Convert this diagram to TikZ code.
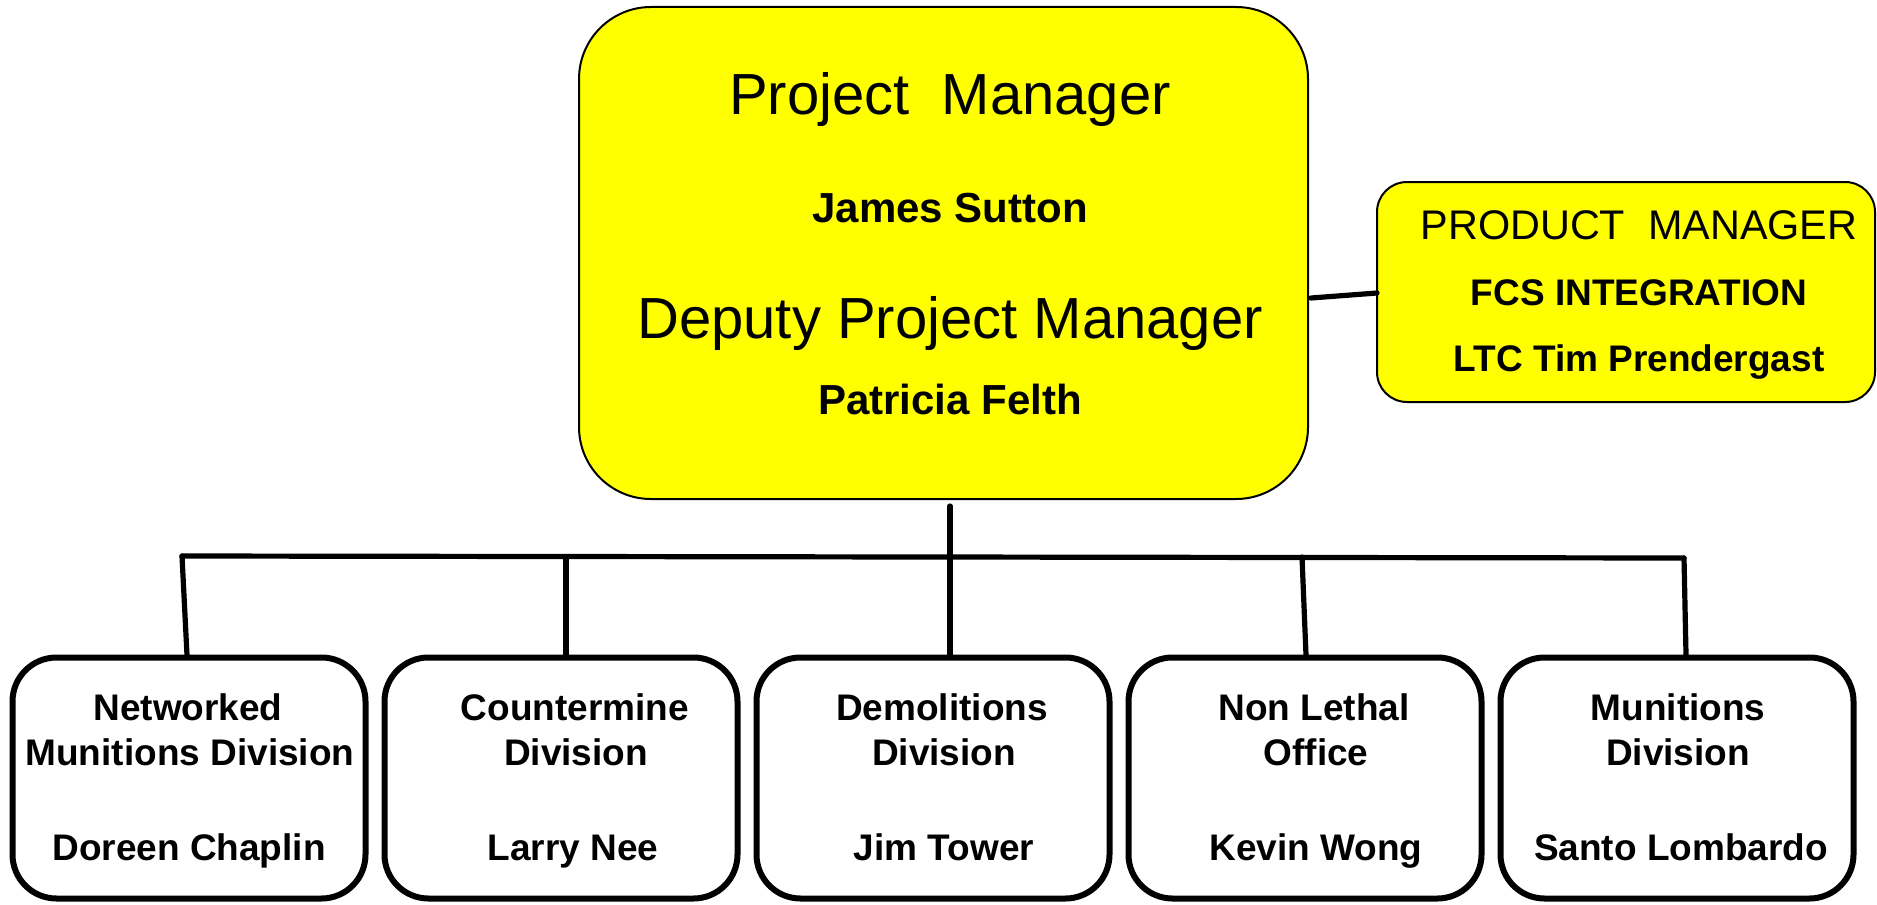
\documentclass[tikz,border=0pt]{standalone}
\usepackage{fontspec}
\setmainfont{Liberation Sans}
\definecolor{boxyellow}{HTML}{FFFF00}
\begin{document}
\begin{tikzpicture}[x=0.5pt,y=-0.5pt,
  mainbox/.style={draw=black, fill=boxyellow, line width=1pt, rounded corners=36pt, inner sep=0},
  pmbox/.style={draw=black, fill=boxyellow, line width=1pt, rounded corners=15pt, inner sep=0},
  divbox/.style={draw=black, fill=white, line width=3pt, rounded corners=22pt, inner sep=0, minimum width=176.5pt, minimum height=120.5pt},
  conn/.style={draw=black, line width=2.6pt, line cap=round, line join=round},
  bigreg/.style={anchor=base, inner sep=0, font=\fontsize{29}{31}\selectfont},
  bigbold/.style={anchor=base, inner sep=0, font=\fontsize{21}{24}\selectfont\bfseries},
  pmreg/.style={anchor=base, inner sep=0, font=\fontsize{20.7}{24}\selectfont},
  pmbold/.style={anchor=base, inner sep=0, font=\fontsize{18.5}{22}\selectfont\bfseries},
  divtxt/.style={anchor=base, inner sep=0, font=\fontsize{18.5}{22}\selectfont\bfseries}
]
\useasboundingbox (0,0) rectangle (1877,904);

% main box
\node[mainbox, minimum width=364.5pt, minimum height=246pt] (main) at (943.5,253) {};
\node[bigreg]  (mt1) at (950,114) {Project\ \ Manager};
\node[bigbold] (mt2) at (950,222) {James Sutton};
\node[bigreg]  (mt3) at (950,338) {Deputy Project Manager};
\node[bigbold] (mt4) at (950,414) {Patricia Felth};

% product manager box
\node[pmbox, minimum width=249pt, minimum height=110pt] (pm) at (1626,292) {};
\node[pmreg]  (pt1) at (1639,239) {PRODUCT\ \ MANAGER};
\node[pmbold] (pt2) at (1639,305) {FCS INTEGRATION};
\node[pmbold] (pt3) at (1639,371) {LTC Tim Prendergast};

% division boxes
\node[divbox] (b1) at (189,778) {};
\node[divbox] (b2) at (561,778) {};
\node[divbox] (b3) at (933,778) {};
\node[divbox] (b4) at (1305,778) {};
\node[divbox] (b5) at (1677,778) {};

\node[divtxt] (b1a) at (188,720) {Networked};
\node[divtxt] (b1b) at (190,765) {Munitions Division};
\node[divtxt] (b1c) at (189,860) {Doreen Chaplin};

\node[divtxt] (b2a) at (575,720) {Countermine};
\node[divtxt] (b2b) at (576,765) {Division};
\node[divtxt] (b2c) at (573,860) {Larry Nee};

\node[divtxt] (b3a) at (942,720) {Demolitions};
\node[divtxt] (b3b) at (944,765) {Division};
\node[divtxt] (b3c) at (944,860) {Jim Tower};

\node[divtxt] (b4a) at (1314,720) {Non Lethal};
\node[divtxt] (b4b) at (1316,765) {Office};
\node[divtxt] (b4c) at (1316,860) {Kevin Wong};

\node[divtxt] (b5a) at (1678,720) {Munitions};
\node[divtxt] (b5b) at (1678,765) {Division};
\node[divtxt] (b5c) at (1681,860) {Santo Lombardo};

% connectors
\coordinate (m0) at (950,506);
\coordinate (j1) at (182,556);
\coordinate (j2) at (566,557);
\coordinate (j3) at (950,557);
\coordinate (j4) at (1302,557);
\coordinate (j5) at (1684,558);
\coordinate (e1) at (187,655);
\coordinate (e4) at (1306,655);
\coordinate (e5) at (1686,655);
\coordinate (pmL) at (1311,298);
\coordinate (pmR) at (1377,293);

\draw[conn] (pmL) -- (pmR);
\draw[conn] (m0) -- (m0 |- b3.north);
\draw[conn] (j1) -- (j5);
\draw[conn] (j1) -- (e1);
\draw[conn] (j2) -- (j2 |- b2.north);
\draw[conn] (j4) -- (e4);
\draw[conn] (j5) -- (e5);
\end{tikzpicture}
\end{document}
